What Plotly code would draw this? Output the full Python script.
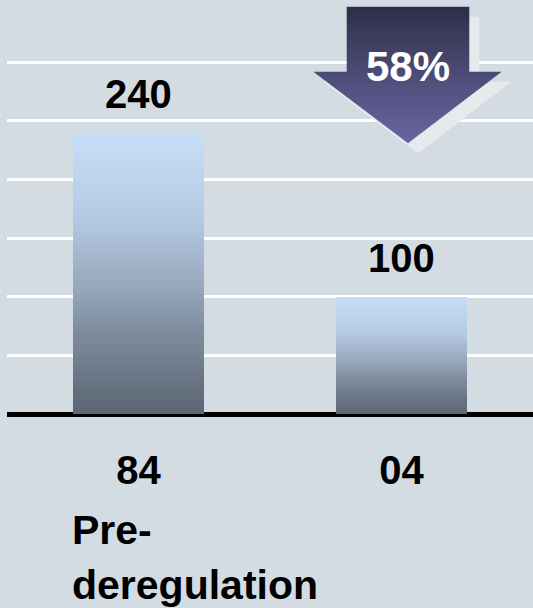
import plotly.graph_objects as go

# ---- data ----
categories = ["84", "04"]
values = [240, 100]
value_labels = ["240", "100"]
subtitle_lines = ["Pre-", "deregulation"]
change_label = "58%"

FONT = "Liberation Sans, Arial, sans-serif"
BG = "#d4dce3"

# gradient (fraction from top of bar -> colour)
grad_stops = [
    (0.00, (198, 223, 247)),
    (0.30, (179, 203, 228)),
    (0.45, (164, 181, 204)),
    (0.55, (151, 168, 188)),
    (0.70, (127, 142, 159)),
    (0.85, (108, 120, 136)),
    (1.00, (91, 102, 115)),
]


def grad_color(t):
    for (t0, c0), (t1, c1) in zip(grad_stops[:-1], grad_stops[1:]):
        if t0 <= t <= t1:
            f = (t - t0) / (t1 - t0) if t1 > t0 else 0
            c = [round(a + (b - a) * f) for a, b in zip(c0, c1)]
            return "rgb(%d,%d,%d)" % tuple(c)
    return "rgb(%d,%d,%d)" % grad_stops[-1][1]


fig = go.Figure()

N = 40
for k in range(N):
    t = 1 - (k + 0.5) / N
    col = grad_color(t)
    fig.add_trace(go.Bar(
        x=categories,
        y=[v / N for v in values],
        marker=dict(color=col, line=dict(width=0)),
        showlegend=False,
        hoverinfo="skip",
    ))

# ---- decorative arrow (pixel-like overlay axes) ----
arrow_x = [346.7, 469.3, 469.3, 501.7, 408.0, 313.3, 346.7, 346.7]
arrow_y = [6.7, 6.7, 71.7, 71.7, 143.3, 71.7, 71.7, 6.7]
sdx, sdy = 10, 10
fig.add_trace(go.Scatter(
    x=[v + sdx for v in arrow_x], y=[v + sdy for v in arrow_y],
    xaxis="x2", yaxis="y2", mode="lines", fill="toself",
    fillcolor="#e7e9ed", line=dict(width=0), showlegend=False, hoverinfo="skip",
))
fig.add_trace(go.Scatter(
    x=arrow_x, y=arrow_y, xaxis="x2", yaxis="y2", mode="lines", fill="toself",
    fillgradient=dict(type="vertical", start=6.7, stop=143.3,
                      colorscale=[[0, "#2e2e47"], [0.5, "#4d4c78"], [1, "#6866a2"]]),
    line=dict(width=0), showlegend=False, hoverinfo="skip",
))

annotations = []
for i, (v, lab) in enumerate(zip(values, value_labels)):
    annotations.append(dict(
        x=i, y=v, xref="x", yref="y", text=lab, showarrow=False,
        yshift=39, yanchor="middle",
        font=dict(family=FONT, size=40, color="black", weight="bold"),
    ))
annotations.append(dict(
    x=407.5, y=66, xref="x2", yref="y2", text=change_label, showarrow=False,
    xanchor="center", yanchor="middle",
    font=dict(family=FONT, size=42, color="white", weight="bold"),
))
for txt, yy in zip(subtitle_lines, [-0.280, -0.413]):
    annotations.append(dict(
        x=0.1198, y=yy, xref="paper", yref="paper", text=txt, showarrow=False,
        xanchor="left", yanchor="middle",
        font=dict(family=FONT, size=41, color="black", weight="bold"),
    ))

fig.update_layout(
    width=533, height=608,
    margin=dict(l=7, r=0, t=0, b=194),
    paper_bgcolor=BG, plot_bgcolor=BG,
    barmode="stack", bargap=0.5,
    annotations=annotations,
    xaxis=dict(
        type="category", range=[-0.5, 1.5], showgrid=False, showline=False,
        ticks="", ticklabelstandoff=29,
        tickfont=dict(family=FONT, size=40, color="black", weight="bold"),
    ),
    yaxis=dict(
        range=[0, 353.2], tickvals=[0, 50, 100, 150, 200, 250, 300],
        showticklabels=False, showgrid=True, gridcolor="white", gridwidth=3,
        zeroline=True, zerolinecolor="black", zerolinewidth=5, showline=False,
    ),
    xaxis2=dict(overlaying="x", range=[7, 533], visible=False),
    yaxis2=dict(overlaying="y", range=[414, 0], visible=False),
)

fig.write_html(
    "out.html",
    config={"displayModeBar": False},
    post_script="document.body.style.margin='0';document.body.style.overflow='hidden';",
)
